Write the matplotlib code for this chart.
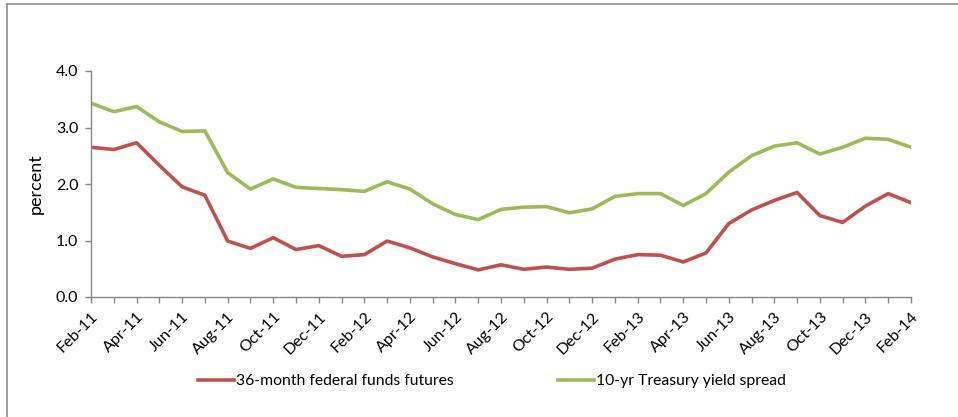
import numpy as np
import matplotlib
matplotlib.use('Agg')
import matplotlib.pyplot as plt
from matplotlib.lines import Line2D

plt.rcParams['font.family'] = ['Lato', 'DejaVu Sans']

# monthly, Feb-11 .. Feb-14
months = ['Feb-11', 'Mar-11', 'Apr-11', 'May-11', 'Jun-11', 'Jul-11', 'Aug-11', 'Sep-11',
          'Oct-11', 'Nov-11', 'Dec-11', 'Jan-12', 'Feb-12', 'Mar-12', 'Apr-12', 'May-12',
          'Jun-12', 'Jul-12', 'Aug-12', 'Sep-12', 'Oct-12', 'Nov-12', 'Dec-12', 'Jan-13',
          'Feb-13', 'Mar-13', 'Apr-13', 'May-13', 'Jun-13', 'Jul-13', 'Aug-13', 'Sep-13',
          'Oct-13', 'Nov-13', 'Dec-13', 'Jan-14', 'Feb-14']
fed_futures = [2.65, 2.61, 2.73, 2.33, 1.95, 1.80, 0.99, 0.86, 1.05, 0.84, 0.91, 0.72, 0.75,
               0.99, 0.87, 0.71, 0.59, 0.48, 0.57, 0.49, 0.53, 0.49, 0.51, 0.67, 0.75, 0.74,
               0.62, 0.78, 1.30, 1.54, 1.71, 1.85, 1.44, 1.32, 1.61, 1.83, 1.67]
yield_spread = [3.43, 3.28, 3.37, 3.10, 2.93, 2.94, 2.20, 1.91, 2.09, 1.94, 1.92, 1.90, 1.87,
                2.04, 1.91, 1.65, 1.46, 1.37, 1.55, 1.59, 1.60, 1.49, 1.56, 1.78, 1.83, 1.83,
                1.62, 1.83, 2.21, 2.50, 2.67, 2.73, 2.53, 2.65, 2.81, 2.79, 2.65]
yticks = [0.0, 1.0, 2.0, 3.0, 4.0]

W, H = 958, 417
fig = plt.figure(figsize=(W / 100, H / 100), dpi=100)
ax = fig.add_axes([91 / W, 1 - 297 / H, 820 / W, 226 / H])

x = np.arange(len(months))
ax.plot(x, fed_futures, color='#C0504D', lw=2.6, label='36-month federal funds futures',
        solid_joinstyle='round')
ax.plot(x, yield_spread, color='#9BBB59', lw=2.6, label='10-yr Treasury yield spread',
        solid_joinstyle='round')

ax.set_xlim(0, len(months) - 1)
ax.set_ylim(0, 4)
ax.set_yticks(yticks)
ax.set_yticklabels(['%.1f' % v for v in yticks])
ax.set_xticks(x)
ax.set_xticklabels([m if i % 2 == 0 else '' for i, m in enumerate(months)],
                   rotation=45, ha='right', rotation_mode='anchor')

for s in ['top', 'right']:
    ax.spines[s].set_visible(False)
for s in ['left', 'bottom']:
    ax.spines[s].set_color('#868686')
    ax.spines[s].set_linewidth(1.0)
ax.tick_params(axis='both', colors='#868686', labelcolor='black', labelsize=11.5,
               length=4, width=1.0, direction='out')
ax.tick_params(axis='x', pad=5)
ax.tick_params(axis='y', pad=5)
ax.set_ylabel('percent', fontsize=13, labelpad=9)

fig.legend(loc='center', bbox_to_anchor=(492 / W, 1 - 381 / H), ncol=2, frameon=False,
           fontsize=11.3, handlelength=2.3, handletextpad=0.15, columnspacing=6.6)

# chart frame (partly cropped)
fig.add_artist(Line2D([7 / W, 1], [1 - 3.5 / H, 1 - 3.5 / H], color='#8c8c8c', lw=1.2))
fig.add_artist(Line2D([7 / W, 7 / W], [0, 1 - 3.5 / H], color='#8c8c8c', lw=1.2))

fig.savefig('out.png', dpi=100)
